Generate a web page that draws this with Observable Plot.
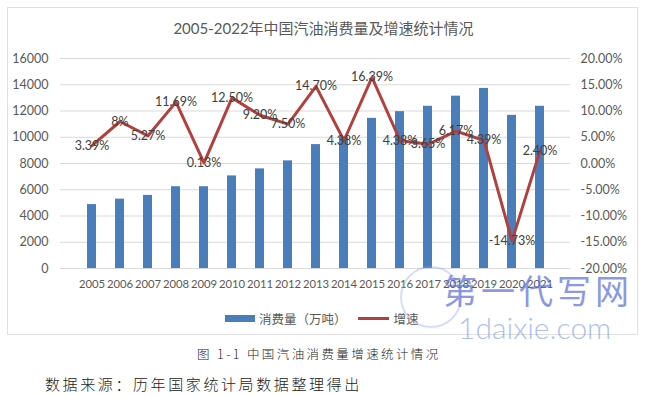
<!DOCTYPE html>
<html>
<head>
<meta charset="utf-8">
<script src="https://cdn.jsdelivr.net/npm/d3@7"></script>
<script src="https://cdn.jsdelivr.net/npm/@observablehq/plot@0.6"></script>
<style>
  body { margin:0; background:#fff; }
  #page { position:relative; width:647px; height:397px; overflow:hidden; background:#fff; font-family:Lato,"Noto Sans CJK SC",sans-serif; }
  #frame { position:absolute; left:7px; top:7px; width:631px; height:328px; border:1px solid #e0e0e0; box-sizing:border-box; }
  #title { position:absolute; left:0; width:647px; top:17px; text-align:center; font-size:15px; color:#595959; font-family:Lato,"Noto Sans CJK SC",sans-serif; }
  #chart { position:absolute; left:0; top:40px; }
  #legend { position:absolute; top:309px; left:225px; font-size:12.5px; color:#595959; font-family:"Noto Sans CJK SC",sans-serif; display:flex; align-items:center; }
  .sw { display:inline-block; }
  #caption { position:absolute; top:344px; left:197px; font-size:12.5px; letter-spacing:2.4px; color:#222; font-family:"Noto Sans CJK SC",sans-serif; font-weight:300; }
  #source { position:absolute; top:373px; left:45px; font-size:15px; letter-spacing:2.6px; color:#222; font-family:"Noto Sans CJK SC",sans-serif; font-weight:300; }
  #wm1 { position:absolute; top:270px; left:443px; font-size:34px; line-height:40px; color:#5b6fd6; opacity:0.7; font-family:"Noto Sans CJK SC",sans-serif; letter-spacing:4px; }
  #wm2 { position:absolute; top:310px; left:458px; font-size:30px; line-height:34px; color:#6c8ee0; opacity:0.55; font-family:Lato,sans-serif; font-weight:300; }
  #wmc { position:absolute; top:266px; left:400px; width:58px; height:58px; border:2px solid #8aa0e8; border-radius:50%; opacity:0.35; }
</style>
</head>
<body>
<div id="page">
  <div id="frame"></div>
  <div id="title">2005-2022年中国汽油消费量及增速统计情况</div>
  <div id="chart"></div>
  <div id="legend"></div>
  <div id="wmc"></div>
  <div id="wm1">第一代写网</div>
  <div id="wm2">1daixie.com</div>
  <div id="caption">图 1-1 中国汽油消费量增速统计情况</div>
  <div id="source">数据来源：历年国家统计局数据整理得出</div>
</div>
<script>
const years = ["2005","2006","2007","2008","2009","2010","2011","2012","2013","2014","2015","2016","2017","2018","2019","2020","2021"];
const consumption = [4870, 5285, 5570, 6230, 6230, 7054, 7590, 8200, 9440, 10000, 11440, 11950, 12360, 13130, 13720, 11670, 12360];
const growth = [3.39, 8, 5.27, 11.69, 0.13, 12.50, 9.20, 7.50, 14.70, 4.38, 16.39, 4.38, 3.65, 6.17, 4.39, -14.73, 2.40];
const growthLabels = ["3.39%","8%","5.27%","11.69%","0.13%","12.50%","9.20%","7.50%","14.70%","4.38%","16.39%","4.38%","3.65%","6.17%","4.39%","-14.73%","2.40%"];
const leftTicks = [0, 2000, 4000, 6000, 8000, 10000, 12000, 14000, 16000];
const rightTicks = [-20, -15, -10, -5, 0, 5, 10, 15, 20];
const rightTickLabels = ["-20.00%","-15.00%","-10.00%","-5.00%","0.00%","5.00%","10.00%","15.00%","20.00%"];
const legendLabels = ["消费量（万吨）", "增速"];

const barColor = "#4a7ebb";
const lineColor = "#b0413e";

const yMax = 16000, gMin = -20, gMax = 20;
const toLeft = g => (g - gMin) / (gMax - gMin) * yMax;

const data = years.map((y, i) => ({year: y, value: consumption[i], g: growth[i], label: growthLabels[i]}));

const chart = Plot.plot({
  width: 647,
  height: 260,
  marginTop: 18,
  marginBottom: 32,
  marginLeft: 60,
  marginRight: 77,
  style: {fontFamily: "Lato, sans-serif", fontSize: "12px", color: "#595959", background: "transparent"},
  x: {type: "band", domain: years, padding: 0.68, label: null},
  y: {domain: [0, yMax], label: null},
  marks: [
    Plot.ruleY(leftTicks, {stroke: "#d9d9d9", strokeWidth: 1}),
    Plot.axisY({ticks: leftTicks, anchor: "left", tickSize: 0, tickPadding: 12, label: null, fontSize: 12.5, tickFormat: d => String(d)}),
    Plot.axisY({ticks: rightTicks.map(toLeft), anchor: "right", tickSize: 0, tickPadding: 10, label: null, fontSize: 12.5,
      tickFormat: (d, i) => rightTickLabels[i]}),
    Plot.axisX({tickSize: 0, tickPadding: 11, label: null, fontSize: 11.3}),
    Plot.barY(data, {x: "year", y: "value", fill: barColor}),
    Plot.line(data, {x: "year", y: d => toLeft(d.g), stroke: lineColor, strokeWidth: 3, strokeLinejoin: "round"}),
    Plot.text(data, {x: "year", y: d => toLeft(d.g), text: "label", fill: "#404040", fontSize: 12.5})
  ]
});
document.getElementById("chart").appendChild(chart);

const legend = document.getElementById("legend");
legend.innerHTML =
  `<span class="sw" style="width:30px;height:7px;background:${barColor};margin-right:4px"></span><span>${legendLabels[0]}</span>` +
  `<span class="sw" style="width:31px;height:3px;background:${lineColor};margin-left:11px;margin-right:5px"></span><span>${legendLabels[1]}</span>`;
</script>
</body>
</html>
